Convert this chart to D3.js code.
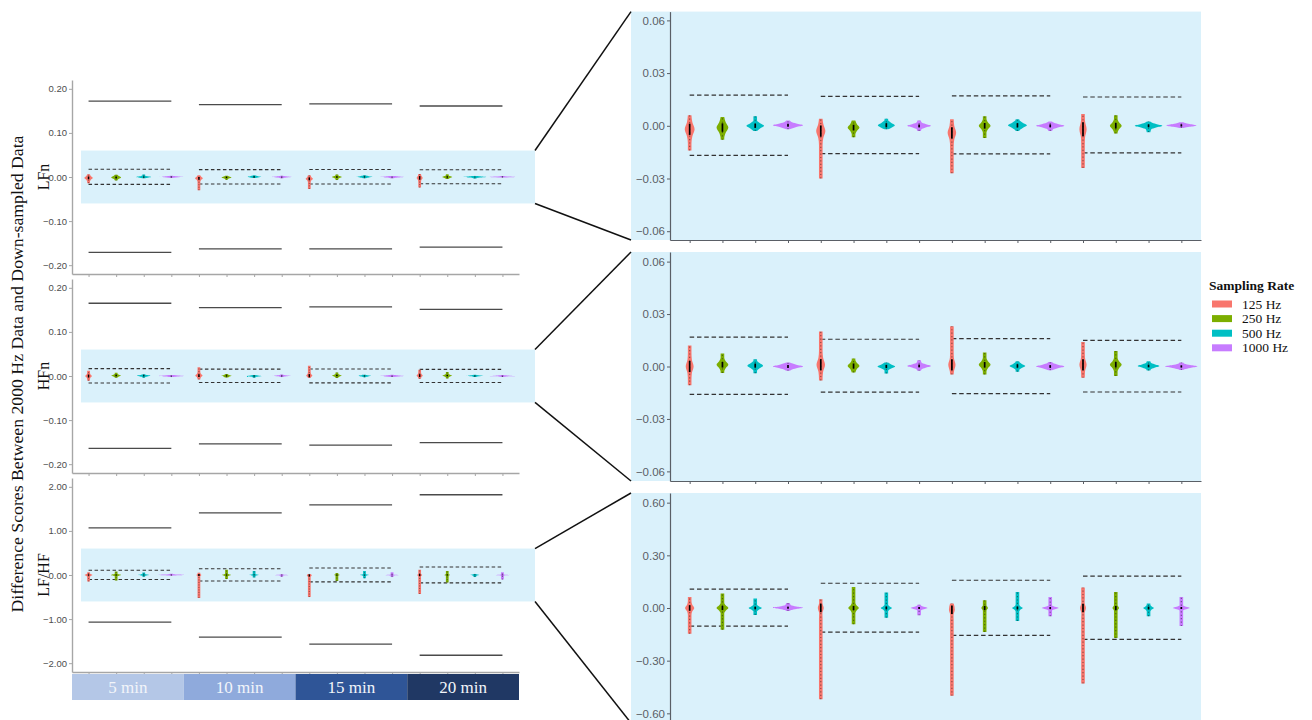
<!DOCTYPE html>
<html>
<head>
<meta charset="utf-8">
<script src="https://cdn.jsdelivr.net/npm/d3@7"></script>
<style>
  body { margin: 0; background: #fff; }
  svg { display: block; }
</style>
</head>
<body>
<div id="chart"></div>
<script>
// ---- data ----
const durations = ['5 min', '10 min', '15 min', '20 min'];
const rates = ['125 Hz', '250 Hz', '500 Hz', '1000 Hz'];
const rateColors = ['#F8766D', '#7CAE00', '#00BFC4', '#C77CFF'];
const durationColors = ['#b4c7e7', '#8faadc', '#2f5597', '#203864'];

// LFn: 16 violins in order 5min(125,250,500,1000), 10min(...), ...
const lfnMin    = [-0.014, -0.008, -0.003, -0.002,  -0.030, -0.0065, -0.002, -0.003,  -0.027, -0.007, -0.003, -0.003,  -0.024, -0.0044, -0.0036, -0.0013];
const lfnMax    = [ 0.006,  0.005,  0.0055, 0.003,   0.004,  0.003,   0.004,  0.003,   0.0037, 0.0055, 0.0037, 0.0025,  0.0067, 0.006,   0.0025,  0.002];
const lfnMid    = [-0.002, -0.001,  0.0,    0.0003, -0.003, -0.001,   0.0003, 0.0,    -0.004,  0.0,    0.0003, 0.0,    -0.002,  0.0,     0.0,     0.0002];
const lfnSpread = [ 0.004,  0.003,  0.0015, 0.001,   0.004,  0.002,   0.0015, 0.001,   0.004,  0.002,  0.0015, 0.001,   0.005,  0.002,   0.001,   0.0008];
const lfnWidth  = [ 0.15,   0.18,   0.27,   0.46,    0.14,   0.18,    0.26,   0.36,    0.13,   0.18,   0.29,   0.43,    0.11,   0.18,    0.42,    0.46];
const lfnAgreeHi = [0.0175, 0.0168, 0.017, 0.0164];
const lfnAgreeLo = [-0.0168, -0.0158, -0.016, -0.0154];
const lfnLimitHi = [0.172, 0.164, 0.166, 0.161];
const lfnLimitLo = [-0.171, -0.163, -0.163, -0.159];

// HFn
const hfnMin    = [-0.0107, -0.0037, -0.0038, -0.0025,  -0.008, -0.0034, -0.004, -0.0025,  -0.0046, -0.0046, -0.003, -0.0021,  -0.0065, -0.0054, -0.0023, -0.002];
const hfnMax    = [ 0.012,   0.0075,  0.0042,  0.0023,   0.020,  0.0046,  0.0023, 0.0036,   0.023,   0.008,   0.003,  0.0026,   0.014,   0.0088,  0.003,   0.0023];
const hfnMid    = [ 0.0,     0.001,   0.0005,  0.0,      0.001,  0.0003,  0.0,    0.0003,   0.001,   0.001,   0.0003, 0.0,      0.001,   0.001,   0.0003,  0.0];
const hfnSpread = [ 0.004,   0.002,   0.0015,  0.001,    0.004,  0.0018,  0.0012, 0.001,    0.004,   0.002,   0.0012, 0.001,    0.004,   0.002,   0.001,   0.0008];
const hfnWidth  = [ 0.12,    0.18,    0.24,    0.46,     0.13,   0.18,    0.27,   0.36,     0.11,    0.18,    0.24,   0.43,     0.11,    0.18,    0.33,    0.49];
const hfnAgreeHi = [0.0168, 0.0156, 0.016, 0.015];
const hfnAgreeLo = [-0.016, -0.0147, -0.0155, -0.0146];
const hfnLimitHi = [0.165, 0.155, 0.157, 0.151];
const hfnLimitLo = [-0.164, -0.154, -0.157, -0.151];

// LF/HF
const ratioMin    = [-0.146, -0.124, -0.04, -0.017,  -0.52, -0.093, -0.055, -0.042,  -0.50, -0.137, -0.074, -0.047,  -0.43, -0.171, -0.047, -0.103];
const ratioMax    = [ 0.063,  0.082,  0.054, 0.029,   0.05,  0.12,   0.088,  0.019,   0.025, 0.044,  0.091,  0.063,   0.117, 0.091,  0.025,  0.063];
const ratioMid    = [ 0.0,    0.0,    0.0,   0.002,   0.0,   0.0,    0.0,    0.0,    -0.01,  0.0,    0.0,    0.0,     0.0,   0.0,    0.0,    0.0];
const ratioSpread = [ 0.02,   0.015,  0.01,  0.007,   0.03,  0.015,  0.01,   0.007,   0.03,  0.015,  0.01,   0.007,   0.03,  0.015,  0.01,   0.007];
const ratioWidth  = [ 0.14,   0.18,   0.20,  0.46,    0.09,  0.16,   0.17,   0.26,    0.09,  0.10,   0.16,   0.26,    0.09,  0.10,   0.16,   0.26];
const ratioAgreeHi = [0.107, 0.141, 0.158, 0.181];
const ratioAgreeLo = [-0.103, -0.137, -0.156, -0.179];
const ratioLimitHi = [1.07, 1.41, 1.59, 1.82];
const ratioLimitLo = [-1.07, -1.41, -1.57, -1.82];

const leftTicks = [[-0.2, -0.1, 0, 0.1, 0.2], [-0.2, -0.1, 0, 0.1, 0.2], [-2, -1, 0, 1, 2]];
const rightTicks = [[-0.06, -0.03, 0, 0.03, 0.06], [-0.06, -0.03, 0, 0.03, 0.06], [-0.6, -0.3, 0, 0.3, 0.6]];

const metrics = [
  { name: 'LFn', min: lfnMin, max: lfnMax, mid: lfnMid, spread: lfnSpread, width: lfnWidth,
    agreeHi: lfnAgreeHi, agreeLo: lfnAgreeLo, limitHi: lfnLimitHi, limitLo: lfnLimitLo,
    leftDomain: 0.22, rightDomain: 0.065, zoom: 0.06 },
  { name: 'HFn', min: hfnMin, max: hfnMax, mid: hfnMid, spread: hfnSpread, width: hfnWidth,
    agreeHi: hfnAgreeHi, agreeLo: hfnAgreeLo, limitHi: hfnLimitHi, limitLo: hfnLimitLo,
    leftDomain: 0.22, rightDomain: 0.0655, zoom: 0.06 },
  { name: 'LF/HF', min: ratioMin, max: ratioMax, mid: ratioMid, spread: ratioSpread, width: ratioWidth,
    agreeHi: ratioAgreeHi, agreeLo: ratioAgreeLo, limitHi: ratioLimitHi, limitLo: ratioLimitLo,
    leftDomain: 2.2, rightDomain: 0.655, zoom: 0.6 }
];

// ---- layout ----
const width = 1312;
const height = 720;
const serif = '"Liberation Serif", "DejaVu Serif", serif';
const sans = '"Liberation Sans", Arial, sans-serif';
const bandFill = '#daf1fb';

const leftPanels = [{ top: 80, bottom: 274 }, { top: 279, bottom: 473 }, { top: 478, bottom: 672 }];
const rightPanels = [{ top: 11.6, bottom: 240 }, { top: 252, bottom: 481 }, { top: 493, bottom: 723 }];
const leftX0 = 72, leftX1 = 519;
const rightX0 = 670, rightX1 = 1201, rightBg0 = 631;
const zoomEdge = 535;

const cats = [];
durations.forEach(d => rates.forEach(r => cats.push(d + '|' + r)));

const svg = d3.select('#chart')
  .append('svg')
  .attr('width', width)
  .attr('height', height);

const xLeft = d3.scalePoint().domain(cats).range([leftX0, leftX1]).padding(0.6);
const xRight = d3.scalePoint().domain(cats).range([rightX0, rightX1]).padding(0.6);
const fmt = d3.format('.2f');

// violin outline from a handful of read-off values (trimmed, flat ends)
function violinProfile(m, i, tail)
{
  const lo = m.min[i], hi = m.max[i], mid = m.mid[i], s = m.spread[i], w = m.width[i];
  const inner = [
    { v: mid - 2 * s, w: Math.max(tail, 0.2 * w) },
    { v: mid - s, w: 0.55 * w },
    { v: mid, w: w },
    { v: mid + s, w: 0.55 * w },
    { v: mid + 2 * s, w: Math.max(tail, 0.2 * w) }
  ].filter(p => p.v > lo + (hi - lo) * 0.03 && p.v < hi - (hi - lo) * 0.03);
  return [{ v: lo, w: tail }].concat(inner, [{ v: hi, w: tail }]);
}

function drawPanel(g, m, x, y, opts)
{
  const step = x.step();

  // background band
  g.append('rect')
    .attr('x', opts.bandX0)
    .attr('y', y(opts.bandTop))
    .attr('width', opts.bandX1 - opts.bandX0)
    .attr('height', y(-opts.bandTop) - y(opts.bandTop))
    .attr('fill', bandFill);

  // solid limit lines (overview only)
  if (opts.limits) {
    durations.forEach((d, k) => {
      [m.limitHi[k], m.limitLo[k]].forEach(v => {
        g.append('line')
          .attr('x1', x(cats[k * 4])).attr('x2', x(cats[k * 4 + 3]))
          .attr('y1', y(v)).attr('y2', y(v))
          .attr('stroke', '#4a4a4a')
          .attr('stroke-width', 1.3);
      });
    });
  }

  // dashed agreement lines
  durations.forEach((d, k) => {
    [m.agreeHi[k], m.agreeLo[k]].forEach(v => {
      g.append('line')
        .attr('x1', x(cats[k * 4])).attr('x2', x(cats[k * 4 + 3]))
        .attr('y1', y(v)).attr('y2', y(v))
        .attr('stroke', '#333')
        .attr('stroke-width', opts.dashWidth)
        .attr('stroke-dasharray', opts.dash);
    });
  });

  // violins
  const area = d3.area()
    .curve(d3.curveMonotoneY)
    .y(p => y(p.v));

  cats.forEach((c, i) => {
    const cx = x(c);
    const prof = violinProfile(m, i, opts.tail);
    area.x0(p => cx - p.w * step).x1(p => cx + p.w * step);
    g.append('path')
      .attr('d', area(prof))
      .attr('fill', rateColors[i % 4]);

    // points along the distribution
    g.append('line')
      .attr('x1', cx).attr('x2', cx)
      .attr('y1', y(m.min[i])).attr('y2', y(m.max[i]))
      .attr('stroke', '#1a1a1a')
      .attr('stroke-opacity', 0.5)
      .attr('stroke-width', opts.dotWidth)
      .attr('stroke-dasharray', opts.dots);

    // dense core
    g.append('line')
      .attr('x1', cx).attr('x2', cx)
      .attr('y1', y(m.mid[i] - m.spread[i] * 0.8)).attr('y2', y(m.mid[i] + m.spread[i] * 0.8))
      .attr('stroke', '#000')
      .attr('stroke-width', opts.coreWidth);
  });
}

metrics.forEach((m, pi) => {
  // overview panel (left)
  const lp = leftPanels[pi];
  const yL = d3.scaleLinear().domain([-m.leftDomain, m.leftDomain]).range([lp.bottom, lp.top]);
  const gl = svg.append('g');

  drawPanel(gl, m, xLeft, yL, {
    bandX0: leftX0 + 9, bandX1: zoomEdge, bandTop: m.zoom, limits: true, tail: 0.05,
    dash: '3.5,2.5', dashWidth: 1.1, dots: '1,1.5', dotWidth: 1, coreWidth: 1.5
  });

  const yAxisL = d3.axisLeft(yL)
    .tickValues(leftTicks[pi])
    .tickFormat(fmt)
    .tickSize(3)
    .tickSizeOuter(0)
    .tickPadding(2);
  const gyl = gl.append('g')
    .attr('transform', `translate(${leftX0}, 0)`)
    .call(yAxisL);
  gyl.select('.domain').attr('stroke', '#a6a6a6').attr('stroke-width', 1.4);
  gyl.selectAll('.tick line').attr('stroke', '#a6a6a6');
  gyl.selectAll('.tick text')
    .attr('fill', '#4d4d4d')
    .style('font-family', sans)
    .style('font-size', '9.5px');

  const xAxisL = d3.axisBottom(xLeft).tickSize(3).tickSizeOuter(0).tickFormat('');
  const gxl = gl.append('g')
    .attr('transform', `translate(0, ${lp.bottom})`)
    .call(xAxisL);
  gxl.select('.domain').attr('stroke', '#a6a6a6').attr('stroke-width', 1.4);
  gxl.selectAll('.tick line').attr('stroke', '#a6a6a6');

  // facet label
  gl.append('text')
    .attr('transform', `translate(48.5, ${yL(0)}) rotate(-90)`)
    .attr('text-anchor', 'middle')
    .style('font-family', serif)
    .style('font-size', '16px')
    .attr('fill', '#111')
    .text(m.name);

  // zoomed panel (right)
  const rp = rightPanels[pi];
  const yR = d3.scaleLinear().domain([-m.rightDomain, m.rightDomain]).range([rp.bottom, rp.top]);
  const gr = svg.append('g');

  drawPanel(gr, m, xRight, yR, {
    bandX0: rightBg0, bandX1: rightX1, bandTop: m.rightDomain, limits: false, tail: 0.055,
    dash: '4.5,2.8', dashWidth: 1.2, dots: '1.2,2.2', dotWidth: 1.1, coreWidth: 1.7
  });

  const yAxisR = d3.axisLeft(yR)
    .tickValues(rightTicks[pi])
    .tickFormat(fmt)
    .tickSize(3)
    .tickSizeOuter(0)
    .tickPadding(2);
  const gyr = gr.append('g')
    .attr('transform', `translate(${rightX0}, 0)`)
    .call(yAxisR);
  gyr.select('.domain').attr('stroke', '#5a5f66').attr('stroke-width', 1.2);
  gyr.selectAll('.tick line').attr('stroke', '#5a5f66');
  gyr.selectAll('.tick text')
    .attr('fill', '#5a5f66')
    .style('font-family', sans)
    .style('font-size', '11.5px');

  const xAxisR = d3.axisBottom(xRight).tickSize(3).tickSizeOuter(0).tickFormat('');
  const gxr = gr.append('g')
    .attr('transform', `translate(0, ${rp.bottom})`)
    .call(xAxisR);
  gxr.select('.domain').attr('stroke', '#5a5f66').attr('stroke-width', 1.2);
  gxr.selectAll('.tick line').attr('stroke', '#5a5f66');

  // zoom connectors
  [[yL(m.zoom), yR(m.rightDomain)], [yL(-m.zoom), yR(-m.rightDomain)]].forEach(([ya, yb]) => {
    svg.append('line')
      .attr('x1', zoomEdge).attr('y1', ya)
      .attr('x2', rightBg0).attr('y2', yb)
      .attr('stroke', '#111')
      .attr('stroke-width', 1.5);
  });
});

// duration strip under the overview
const stripX = d3.scaleBand().domain(durations).range([leftX0, leftX1]);
const strip = svg.append('g').attr('transform', 'translate(0, 674)');
strip.selectAll('rect')
  .data(durations)
  .join('rect')
  .attr('x', d => stripX(d))
  .attr('width', stripX.bandwidth())
  .attr('height', 26)
  .attr('fill', (d, i) => durationColors[i]);
strip.selectAll('text')
  .data(durations)
  .join('text')
  .attr('x', d => stripX(d) + stripX.bandwidth() / 2)
  .attr('y', 19)
  .attr('text-anchor', 'middle')
  .style('font-family', serif)
  .style('font-size', '17px')
  .attr('fill', '#f2f5fa')
  .text(d => d);

// shared y title
svg.append('text')
  .attr('transform', 'translate(23, 374) rotate(-90)')
  .attr('text-anchor', 'middle')
  .attr('textLength', 477)
  .attr('lengthAdjust', 'spacingAndGlyphs')
  .style('font-family', serif)
  .style('font-size', '16.5px')
  .attr('fill', '#111')
  .text('Difference Scores Between 2000 Hz Data and Down-sampled Data');

// legend
const legend = svg.append('g').attr('transform', 'translate(1209, 0)');
legend.append('text')
  .attr('x', 0)
  .attr('y', 290)
  .style('font-family', serif)
  .style('font-size', '13.5px')
  .style('font-weight', 'bold')
  .attr('fill', '#111')
  .text('Sampling Rate');
rates.forEach((r, i) => {
  const cy = 304 + i * 14.6;
  legend.append('rect')
    .attr('x', 3).attr('y', cy - 3.5)
    .attr('width', 20).attr('height', 7)
    .attr('fill', rateColors[i]);
  legend.append('text')
    .attr('x', 33).attr('y', cy + 4.5)
    .style('font-family', serif)
    .style('font-size', '13.5px')
    .attr('fill', '#111')
    .text(r);
});
</script>
</body>
</html>
